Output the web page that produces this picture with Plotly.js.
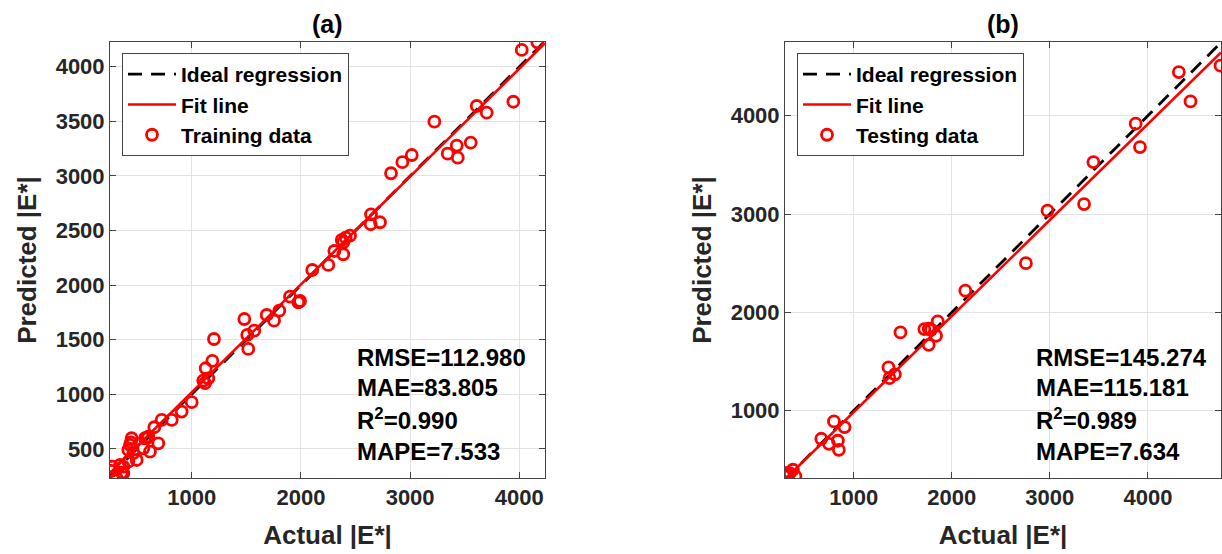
<!DOCTYPE html>
<html>
<head>
<meta charset="utf-8">
<script src="https://cdn.plot.ly/plotly-3.0.1.min.js"></script>
<style>html,body{margin:0;padding:0;background:#fff;}#chart{width:1222px;height:554px;}</style>
</head>
<body>
<div id="chart"></div>
<script>
// ---- Data ----
const trainActual = [4165,4022,3945,3701,3610,3222,3555,3427,3344,3436,3015,2929,2825,
  2642,2639,2724,2450,2410,2374,2388,2306,2388,2251,2104,1992,
  1900,1976,1802,1754,1687,1482,1573,1509,1518,1204,1189,1128,1152,1106,1122,1000,
  908,817,725,658,694,603,572,618,557,450,435,420,465,496,420,374,343,273,313,374,588,444,266,359];
const trainPred = [4224,4154,3680,3580,3641,3497,3305,3278,3204,3168,3192,3126,3025,
  2649,2558,2576,2453,2435,2414,2393,2313,2283,2185,2139,1855,
  1895,1843,1766,1675,1727,1690,1583,1544,1416,1507,1306,1239,1147,1125,1102,928,
  842,766,766,699,552,613,598,475,506,598,537,491,461,399,384,338,353,338,232,277,598,560,300,283];

const testActual = [315,325,348,381,406,670,748,799,839,849,907,1355,1365,1420,1477,
  1721,1765,1789,1765,1840,1857,2138,2756,2976,3349,3444,3875,3919,4315,4434,4740];
const testPred = [365,331,365,399,331,714,663,890,694,602,833,1440,1330,1370,1796,
  1830,1833,1823,1670,1762,1908,2220,2500,3034,3101,3529,3919,3681,4444,4146,4509];

const fitSlopeA = 0.988, fitInterceptA = 31;
const fitSlopeB = 0.977, fitInterceptB = 8;

const rangeXA = [252, 4235], rangeYA = [234, 4227];
const rangeXB = [300, 4745], rangeYB = [315, 4750];

const ticksXA = [1000, 2000, 3000, 4000];
const ticksYA = [500, 1000, 1500, 2000, 2500, 3000, 3500, 4000];
const ticksXB = [1000, 2000, 3000, 4000];
const ticksYB = [1000, 2000, 3000, 4000];

const statsA = ['RMSE=112.980', 'MAE=83.805', 'R<sup>2</sup>=0.990', 'MAPE=7.533'];
const statsB = ['RMSE=145.274', 'MAE=115.181', 'R<sup>2</sup>=0.989', 'MAPE=7.634'];

// ---- Styling ----
const FONT = 'Liberation Sans, Arial, sans-serif';
const W = 1222, H = 554;
const px = v => v / W, py = v => 1 - v / H;

const fitLine = (r, s, b) => ({x: [r[0], r[1]], y: [s * r[0] + b, s * r[1] + b]});

const fa = fitLine(rangeXA, fitSlopeA, fitInterceptA);
const fb = fitLine(rangeXB, fitSlopeB, fitInterceptB);

const markerStyle = {symbol: 'circle-open', size: 11, color: '#ff0000', line: {width: 2.8, color: '#ff0000'}};
const dashStyle = {color: '#000', width: 2.8, dash: '14px,9px'};

const traces = [
  {x: rangeXA, y: rangeXA, mode: 'lines', name: 'Ideal regression', line: dashStyle, xaxis: 'x', yaxis: 'y', legend: 'legend'},
  {x: fa.x, y: fa.y, mode: 'lines', name: 'Fit line', line: {color: '#ff0000', width: 2.6}, xaxis: 'x', yaxis: 'y', legend: 'legend'},
  {x: trainActual, y: trainPred, mode: 'markers', name: 'Training data', marker: markerStyle, xaxis: 'x', yaxis: 'y', legend: 'legend'},
  {x: rangeXB, y: rangeXB, mode: 'lines', name: 'Ideal regression', line: dashStyle, xaxis: 'x2', yaxis: 'y2', legend: 'legend2'},
  {x: fb.x, y: fb.y, mode: 'lines', name: 'Fit line', line: {color: '#ff0000', width: 2.6}, xaxis: 'x2', yaxis: 'y2', legend: 'legend2'},
  {x: testActual, y: testPred, mode: 'markers', name: 'Testing data', marker: markerStyle, xaxis: 'x2', yaxis: 'y2', legend: 'legend2'}
];

const tickFont = {family: FONT, size: 22, color: '#262626', weight: 700};
const titleFont = {family: FONT, size: 26, color: '#262626', weight: 700};

function axis(domain, range, ticks, title, anchor, isX) {
  return {
    domain: domain, range: range, anchor: anchor,
    tickmode: 'array', tickvals: ticks, ticktext: ticks.map(String),
    ticks: 'inside', ticklen: 6, tickcolor: '#444', tickwidth: 1,
    showline: true, linecolor: '#444', linewidth: 1, mirror: 'ticks',
    showgrid: true, gridcolor: '#e3e3e3', gridwidth: 1,
    zeroline: false, tickfont: tickFont,
    title: {text: title, font: titleFont, standoff: isX ? 16 : 11},
    automargin: false
  };
}

const domY = [py(478), py(42)];

const annotations = [];
const statYs = [357, 387, 419, 451];
const statFont = {family: FONT, size: 24, color: '#000', weight: 700};
statsA.forEach((t, i) => annotations.push({xref: 'paper', yref: 'paper', x: px(355), y: py(statYs[i]), xanchor: 'left', yanchor: 'middle', text: t, showarrow: false, font: statFont}));
statsB.forEach((t, i) => annotations.push({xref: 'paper', yref: 'paper', x: px(1034), y: py(statYs[i]), xanchor: 'left', yanchor: 'middle', text: t, showarrow: false, font: statFont}));
annotations.push({xref: 'paper', yref: 'paper', x: px(327), y: py(24), xanchor: 'center', yanchor: 'middle', text: '(a)', showarrow: false, font: {family: FONT, size: 25, color: '#000', weight: 700}});
annotations.push({xref: 'paper', yref: 'paper', x: px(1003), y: py(24), xanchor: 'center', yanchor: 'middle', text: '(b)', showarrow: false, font: {family: FONT, size: 25, color: '#000', weight: 700}});

const legendBase = {
  bgcolor: '#fff', bordercolor: '#444', borderwidth: 1,
  font: {family: FONT, size: 21, color: '#000', weight: 700},
  xanchor: 'left', yanchor: 'top', itemwidth: 48, tracegroupgap: 0
};

const layout = {
  width: W, height: H,
  margin: {l: 0, r: 0, t: 0, b: 0},
  paper_bgcolor: '#fff', plot_bgcolor: '#fff',
  showlegend: true,
  xaxis: axis([px(110), px(545)], rangeXA, ticksXA, 'Actual |E*|', 'y', true),
  yaxis: axis(domY, rangeYA, ticksYA, 'Predicted |E*|', 'x', false),
  xaxis2: axis([px(785), px(1221)], rangeXB, ticksXB, 'Actual |E*|', 'y2', true),
  yaxis2: axis(domY, rangeYB, ticksYB, 'Predicted |E*|', 'x2', false),
  legend: Object.assign({}, legendBase, {x: px(122), y: py(53)}),
  legend2: Object.assign({}, legendBase, {x: px(797), y: py(53)}),
  annotations: annotations
};

Plotly.newPlot('chart', traces, layout, {staticPlot: true, displayModeBar: false});
</script>
</body>
</html>
